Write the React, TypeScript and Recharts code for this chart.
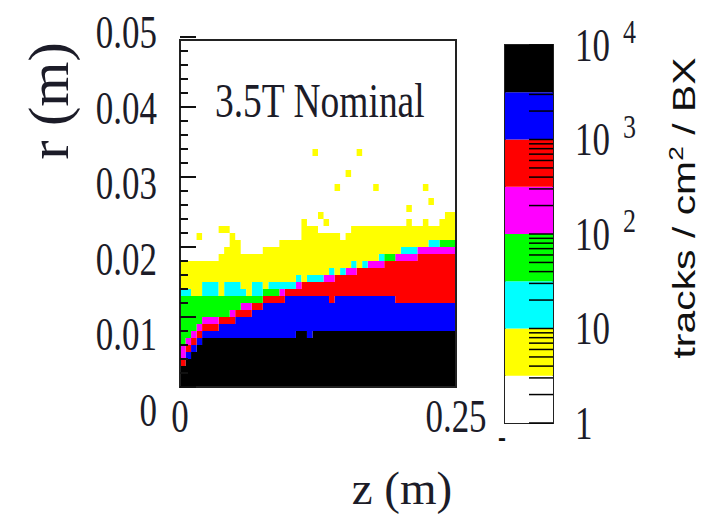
import React from 'react';
import { ComposedChart, Area, XAxis, YAxis, ReferenceArea, BarChart, Bar } from 'recharts';

// z bins of 5 mm, r in mm (1 mm bins)
const Z_BIN = 0.005;
const R_MAX = 49.57;
const SQUEEZE = 1.32;

// upper edge (mm) of each colour band, per z bin
const BLACK_TOP = [3, 4, 5, 6, 7, 7, 7, 7, 7, 7, 7, 7, 7, 7, 7, 7, 7, 7, 7, 7, 7, 8, 8, 7, 8, 8, 8, 8, 8, 8, 8, 8, 8, 8, 8, 8, 8, 8, 8, 8, 8, 8, 8, 8, 8, 8, 8, 8, 8, 8];
const BLUE_TOP = [3, 5, 6, 7, 8, 8, 8, 9, 9, 9, 10, 10, 10, 11, 11, 12, 12, 12, 12, 13, 13, 13, 13, 13, 13, 13, 13, 12, 13, 13, 13, 13, 13, 13, 13, 13, 13, 13, 13, 12, 12, 12, 12, 12, 12, 12, 12, 12, 12, 12];
const RED_TOP = [4, 6, 7, 8, 9, 9, 9, 10, 10, 10, 11, 11, 11, 12, 12, 13, 13, 13, 13, 14, 14, 14, 15, 15, 15, 15, 15, 15, 16, 16, 16, 16, 17, 17, 17, 17, 17, 18, 18, 18, 18, 18, 18, 19, 19, 19, 19, 19, 19, 19];
const MAGENTA_TOP = [6, 7, 8, 9, 10, 10, 10, 10, 10, 11, 11, 12, 12, 12, 12, 13, 13, 13, 14, 14, 14, 15, 15, 15, 15, 15, 16, 16, 16, 16, 17, 17, 17, 17, 18, 18, 18, 18, 18, 19, 19, 19, 19, 20, 20, 20, 20, 20, 20, 20];
const GREEN_TOP = [13, 13, 13, 13, 13, 13, 13, 13, 13, 13, 13, 13, 13, 13, 13, 14, 14, 14, 14, 14, 14, 15, 15, 15, 15, 15, 16, 16, 16, 16, 17, 17, 17, 17, 18, 18, 18, 19, 19, 19, 19, 19, 19, 20, 20, 20, 20, 21, 21, 21];
const CYAN_TOP = [14, 14, 13, 13, 15, 15, 15, 13, 15, 15, 15, 14, 13, 15, 15, 14, 15, 15, 15, 15, 15, 16, 15, 16, 16, 16, 16, 17, 16, 17, 17, 18, 17, 18, 18, 18, 19, 19, 19, 19, 20, 20, 20, 20, 20, 21, 21, 21, 21, 21];
const YELLOW_TOP = [18, 18, 18, 18, 18, 18, 18, 19, 20, 22, 21, 19, 19, 19, 19, 20, 20, 20, 21, 21, 21, 21, 24, 23, 23, 22, 22, 22, 22, 21, 22, 23, 23, 23, 23, 23, 23, 23, 23, 23, 23, 24, 23, 23, 24, 23, 23, 24, 25, 25];
// isolated yellow cells above the band (lower edge, mm)
const STRAY_R: (number | null)[] = [null, null, null, 21, null, null, null, 22, 22, null, null, null, null, null, null, null, null, null, null, null, null, null, null, null, 33, 24, 23, null, 28, null, 30, null, 33, null, null, 28, null, null, null, null, null, 25, null, null, 28, 26, null, null, null, null];

const R_TICKS = [0, 2, 4, 6, 8, 10, 12, 14, 16, 18, 20, 22, 24, 26, 28, 30, 32, 34, 36, 38, 40, 42, 44, 46, 48, 50];
const Z_TICKS = [0, 0.25];

// colour scale: band edges in tracks / cm2 / BX
const COLOR_EDGES = [1, 3.16, 10, 31.6, 100, 316, 1000, 3160, 10000];
const COLOR_BAR = ['#ffffff', '#ffff00', '#00ffff', '#00ff00', '#ff00ff', '#ff0000', '#0000ff', '#000000'];
const CB_TICKS = [0, 1, 2, 3].flatMap((d) => [1, 2, 3, 4, 5, 6, 7, 8, 9].map((k) => d + Math.log10(k))).concat([4]);

const BANDS = [
  { key: 'black', color: '#000000' },
  { key: 'blue', color: '#0000ff' },
  { key: 'red', color: '#ff0000' },
  { key: 'magenta', color: '#ff00ff' },
  { key: 'green', color: '#00ff00' },
  { key: 'cyan', color: '#00ffff' },
  { key: 'yellow', color: '#ffff00' },
  { key: 'gap', color: 'none' },
  { key: 'stray', color: '#ffff00' },
];

const column = (i: number) => {
  const s = STRAY_R[i];
  return {
    z: i * Z_BIN,
    black: BLACK_TOP[i],
    blue: Math.max(0, BLUE_TOP[i] - BLACK_TOP[i]),
    red: Math.max(0, RED_TOP[i] - BLUE_TOP[i]),
    magenta: Math.max(0, MAGENTA_TOP[i] - RED_TOP[i]),
    green: Math.max(0, GREEN_TOP[i] - MAGENTA_TOP[i]),
    cyan: Math.max(0, CYAN_TOP[i] - GREEN_TOP[i]),
    yellow: Math.max(0, YELLOW_TOP[i] - CYAN_TOP[i]),
    gap: s == null ? 0 : s - YELLOW_TOP[i],
    stray: s == null ? 0 : 1,
  };
};
const rows = BLACK_TOP.map((_, i) => column(i));
rows.push({ ...column(BLACK_TOP.length - 1), z: BLACK_TOP.length * Z_BIN });

const cbRow = [
  Object.fromEntries(COLOR_BAR.map((_, i) => [`b${i}`, Math.log10(COLOR_EDGES[i + 1] / COLOR_EDGES[i])])),
];

const SERIF = '"Liberation Serif", "DejaVu Serif", serif';
const SANS = '"Liberation Sans", Arial, sans-serif';
const INK = '#1c1c28';

const RTick = ({ x, y, payload }: any) => {
  const v = payload.value;
  const major = v % 10 === 0;
  return (
    <g>
      <line x1={x} x2={x + (major ? 16 : 8)} y1={y} y2={y} stroke="#111" strokeWidth={2} />
      {major && (
        <text
          transform={`translate(${x - 23},${y + 1 + (40 - v) * 0.55}) scale(1,${SQUEEZE})`}
          textAnchor="end"
          dominantBaseline="central"
          fontFamily={SERIF}
          fontSize={35}
          fill={INK}
        >
          {v === 0 ? '0' : (v / 1000).toFixed(2)}
        </text>
      )}
    </g>
  );
};

const ZTick = ({ x, y, payload }: any) => (
  <text
    transform={`translate(${x},${y + 29}) scale(1,${SQUEEZE})`}
    textAnchor="middle"
    dominantBaseline="central"
    fontFamily={SERIF}
    fontSize={35}
    fill={INK}
  >
    {payload.value === 0 ? '0' : String(payload.value)}
  </text>
);

const CbTick = ({ x, y, payload }: any) => {
  const v = payload.value;
  const decade = Math.abs(v - Math.round(v)) < 1e-6;
  return (
    <g>
      <line x1={x - 24} x2={x} y1={y} y2={y} stroke="#000" strokeWidth={1.5} />
      {decade && (
        <g transform={`translate(${x + 22},${y}) scale(1,${SQUEEZE})`} fontFamily={SERIF} fill={INK}>
          <text dominantBaseline="central" fontSize={35}>{v === 0 ? '1' : '10'}</text>
          {v >= 2 && (
            <text x={48} y={-10} dominantBaseline="central" fontSize={26}>{Math.round(v)}</text>
          )}
        </g>
      )}
    </g>
  );
};

export default function App() {
  return (
    <div style={{ position: 'relative', width: 697, height: 506, background: '#fff' }}>
      <div style={{ position: 'absolute', left: 0, top: 0 }}>
        <ComposedChart width={490} height={440} data={rows} margin={{ top: 32, right: 42, bottom: 0, left: 171 }}>
          <XAxis
            dataKey="z"
            type="number"
            domain={[0, 0.25]}
            allowDataOverflow
            ticks={Z_TICKS}
            interval={0}
            height={61}
            axisLine={false}
            tickLine={false}
            tickSize={0}
            tickMargin={0}
            tick={(p: any) => <ZTick {...p} />}
          />
          <YAxis
            type="number"
            domain={[0, R_MAX]}
            allowDataOverflow
            ticks={R_TICKS}
            interval={0}
            width={1}
            axisLine={false}
            tickLine={false}
            tickSize={0}
            tickMargin={0}
            tick={(p: any) => <RTick {...p} />}
          />
          {BANDS.map((b) => (
            <Area
              key={b.key}
              dataKey={b.key}
              stackId="r"
              type="stepAfter"
              fill={b.color}
              fillOpacity={b.color === 'none' ? 0 : 1}
              stroke="none"
              dot={false}
              activeDot={false}
              isAnimationActive={false}
            />
          ))}
          <ReferenceArea y1={0} y2={R_MAX} fill="none" stroke="#222" strokeWidth={2} />
        </ComposedChart>
      </div>

      <div style={{ position: 'absolute', left: 460, top: 0 }}>
        <BarChart width={237} height={440} data={cbRow} margin={{ top: 37, right: 151, bottom: 25, left: 37 }} barCategoryGap={0}>
          <XAxis hide />
          <YAxis
            orientation="right"
            type="number"
            domain={[0, 4]}
            allowDataOverflow
            ticks={CB_TICKS}
            interval={0}
            width={1}
            axisLine={false}
            tickLine={false}
            tickSize={0}
            tickMargin={0}
            tick={(p: any) => <CbTick {...p} />}
          />
          {COLOR_BAR.map((c, i) => (
            <Bar key={i} dataKey={`b${i}`} stackId="cb" fill={c} isAnimationActive={false} />
          ))}
          <ReferenceArea y1={0} y2={4} fill="none" stroke="#222" strokeWidth={2} />
        </BarChart>
      </div>

      <svg width={697} height={506} style={{ position: 'absolute', left: 0, top: 0, pointerEvents: 'none' }}>
        <text transform="translate(60,93) rotate(-90)" textAnchor="middle" fontFamily={SERIF} fontSize={58} fill={INK}>
          r (m)
        </text>
        <text x={394} y={496} textAnchor="middle" fontFamily={SERIF} fontSize={47} fill={INK}>
          z (m)
        </text>
        <text transform={`translate(207,109) scale(1,${SQUEEZE})`} fontFamily={SERIF} fontSize={37.5} fill={INK}>
          3.5T Nominal
        </text>
        <text
          transform={`translate(687,200) scale(1,${SQUEEZE}) rotate(-90)`}
          textAnchor="middle"
          fontFamily={SANS}
          fontSize={31}
          fill="#111"
        >
          tracks / cm<tspan dy={-12} fontSize={20}>2</tspan>
          <tspan dy={12}> / BX</tspan>
        </text>
        <text x={490} y={438} fontFamily={SANS} fontWeight="bold" fontSize={24} fill="#111">
          -
        </text>
      </svg>
    </div>
  );
}
